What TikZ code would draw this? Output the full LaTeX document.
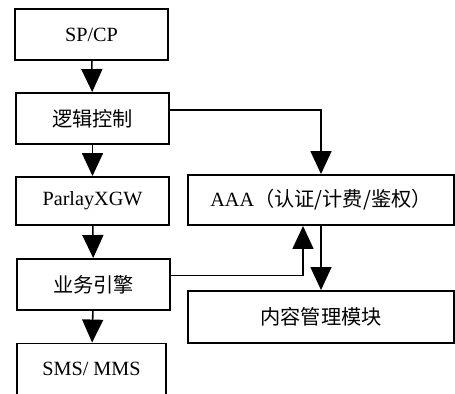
\documentclass[tikz,border=0pt]{standalone}
\usepackage{fontspec}
\setmainfont{Liberation Serif}
\newfontfamily\cjk{Noto Sans CJK SC}
\usetikzlibrary{arrows.meta}

\begin{document}
\begin{tikzpicture}[x=0.02cm,y=-0.02cm,
    box/.style={draw,line width=1.1pt,minimum width=3.06cm,minimum height=1.02cm,inner sep=0pt,font=\fontsize{11.5}{13}\selectfont},
    wide/.style={box,minimum width=5.32cm},
    link/.style={line width=0.9pt,-{Triangle[length=0.46cm,width=0.42cm]}}]
    \clip (0,0) rectangle (455,393);
    % left column
    \node[box] (spcp) at (91.5,34.5) {SP/CP};
    \node[box] (logic) at (92.5,118.5) {\cjk 逻辑控制};
    \node[box,minimum height=0.96cm] (parlay) at (92.5,201) {ParlayXGW};
    \node[box] (engine) at (93.5,284.5) {\cjk 业务引擎};
    \node[box,minimum width=2.98cm] (sms) at (91.5,369) {SMS/ MMS};
    % right column
    \node[wide,minimum height=1cm] (aaa) at (321,200) {AAA{\cjk （认证/计费/鉴权）}};
    \node[wide,minimum height=1.04cm] (content) at (321,317) {\cjk 内容管理模块};

    \draw[link] (spcp) -- (logic);
    \draw[link] (logic) -- (parlay);
    \draw[link] (parlay) -- (engine);
    \draw[link] (engine) -- (sms);
    \draw[link] ([yshift=0.17cm]logic.east) -| (aaa.north);
    \draw[link] ([yshift=0.18cm]engine.east) -| ([xshift=-0.36cm]aaa.south);
    \draw[link] (aaa) -- (content);
\end{tikzpicture}
\end{document}
